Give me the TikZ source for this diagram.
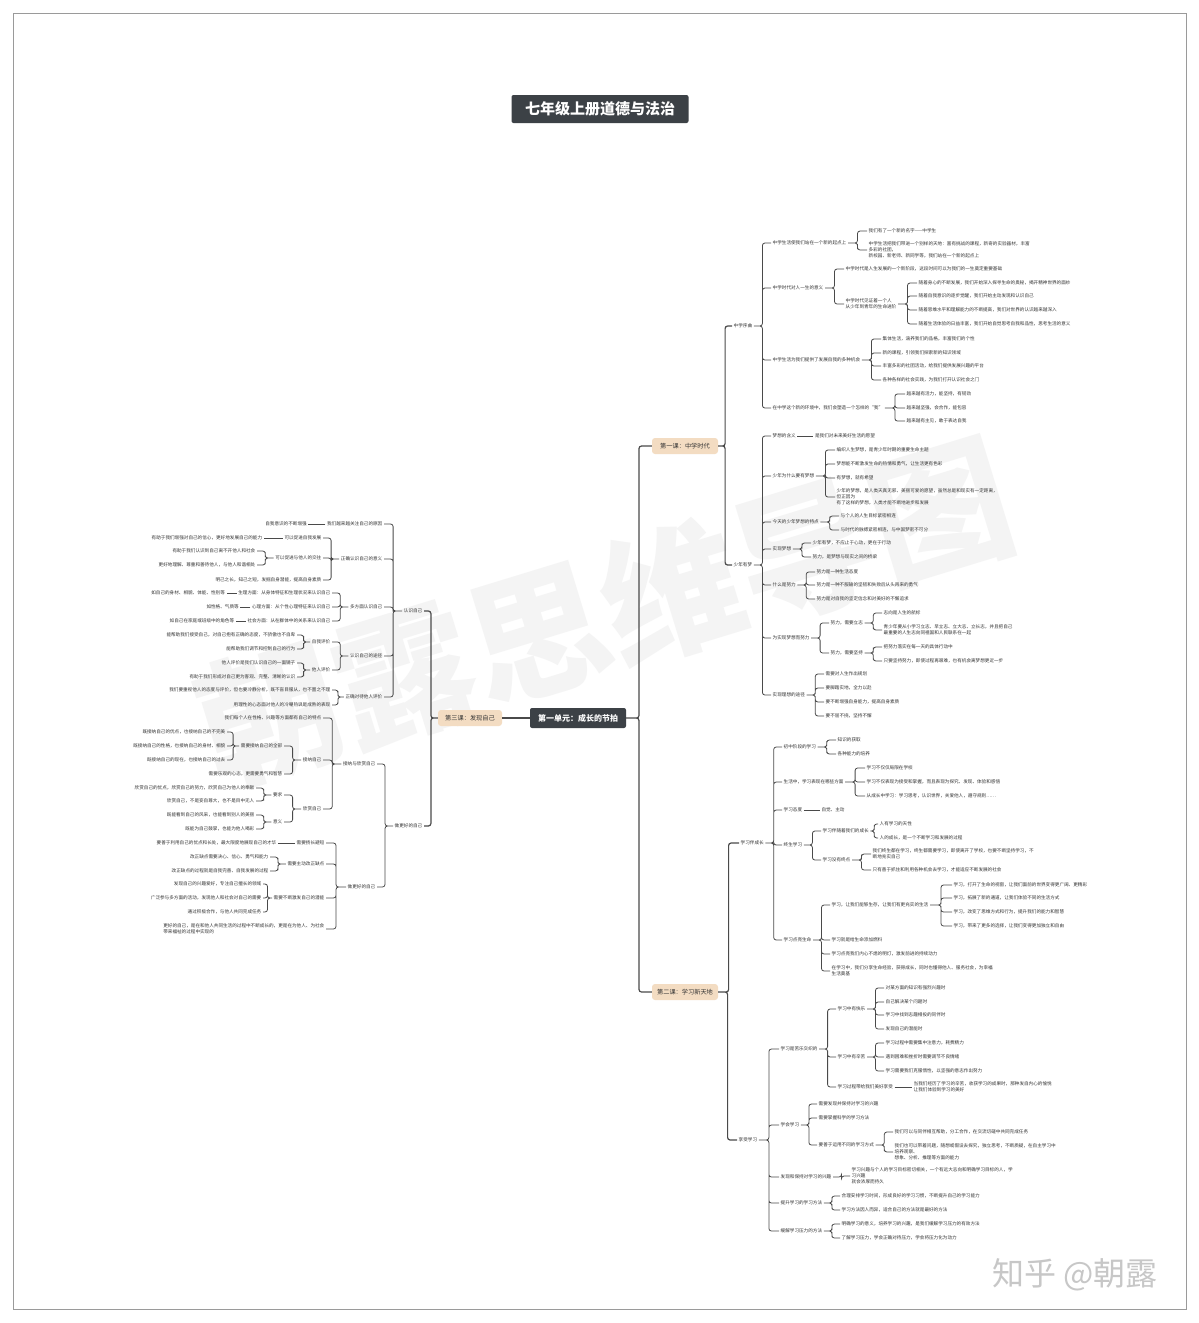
\documentclass[tikz,border=0pt]{standalone}
\usepackage{fontspec}
\setmainfont{Noto Sans CJK SC}
\usetikzlibrary{positioning, calc}

\definecolor{inkgray}{HTML}{333333}
\definecolor{linegray}{HTML}{4A4A4A}
\definecolor{darkbox}{HTML}{3C4146}
\definecolor{tanbox}{HTML}{F3DCC2}
\definecolor{framegray}{HTML}{9A9A9A}

\begin{document}
\begin{tikzpicture}[
    x=1pt, y=-1pt,
    every node/.style={text=inkgray},
    leaf/.style={font=\fontsize{4.6}{6.2}\selectfont, inner sep=1.5pt, align=left},
    rt/.style={leaf, anchor=west},
    lt/.style={leaf, anchor=east},
    lesson/.style={rectangle, rounded corners=3pt, fill=tanbox, font=\fontsize{6.2}{7}\selectfont, minimum height=16pt, minimum width=66pt, inner sep=2pt},
    unit/.style={rectangle, rounded corners=2pt, fill=darkbox, text=white, font=\bfseries\fontsize{8}{9}\selectfont, minimum height=20pt, minimum width=96pt},
    headbox/.style={rectangle, rounded corners=2pt, fill=darkbox, text=white, font=\bfseries\fontsize{15}{16}\selectfont, minimum height=28pt, minimum width=177pt},
    conn/.style={draw=linegray, line width=0.8pt, rounded corners=2.5pt},
    trunk/.style={conn, line width=1.2pt},
    fork/.style={to path={-| ($(\tikztostart)!.5!(\tikztotarget)$) |- (\tikztotarget)}}
]

% Page, frame and watermarks
\fill[white] (0,0) rectangle (1199,1323);
\useasboundingbox (0,0) rectangle (1199,1323);
\node[text=black!4.5, font=\bfseries\fontsize{140}{140}\selectfont, rotate=17] (mark) at (605,612) {朝露思维导图};
\draw[framegray, line width=0.8pt] (13,13) rectangle (1186,1309);
\node[text=black!22, font=\fontsize{32}{34}\selectfont] (zhihu) at (1075,1275) {知乎 @朝露};

% Title and centre
\node[headbox] (title) at (600,109) {七年级上册道德与法治};
\node[unit] (unit) at (578,718) {第一单元：成长的节拍};
\node[lesson] (k1) at (685,446) {第一课：中学时代};
\node[lesson] (k2) at (685,992) {第二课：学习新天地};
\node[lesson, minimum width=64pt] (k3) at (470,718) {第三课：发现自己};

% Lesson 1 -- 中学序曲
\node[rt] (k1a) at (732,326) {中学序曲};
\node[rt] (a1) at (771,243) {中学生活使我们站在一个新的起点上};
\node[rt] (a11) at (867,231) {我们有了一个新的名字——中学生};
\node[rt] (a12) at (867,250) {中学生活把我们带进一个别样的天地：富有挑战的课程，新奇的实验器材，丰富\\多彩的社团，\\新校园、新老师、新同学等，我们站在一个新的起点上};
\node[rt] (a2) at (771,288) {中学时代对人一生的意义};
\node[rt] (a21) at (844,269) {中学时代是人生发展的一个新阶段，这段时间可以为我们的一生奠定重要基础};
\node[rt] (a22) at (844,304) {中学时代见证着一个人\\从少年到青年的生命进阶};
\node[rt] (a221) at (917,283) {随着身心的不断发展，我们开始深入探寻生命的奥秘，揭开精神世界的面纱};
\node[rt] (a222) at (917,296) {随着自我意识的逐步觉醒，我们开始主动发现和认识自己};
\node[rt] (a223) at (917,310) {随着思维水平和理解能力的不断提高，我们对世界的认识越来越深入};
\node[rt] (a224) at (917,324) {随着生活体验的日益丰富，我们开始自觉思考自我和品性，思考生活的意义};
\node[rt] (a3) at (771,360) {中学生活为我们提供了发展自我的多种机会};
\node[rt] (a31) at (881,339) {集体生活，涵养我们的品格，丰富我们的个性};
\node[rt] (a32) at (881,353) {新的课程，引领我们探索新的知识领域};
\node[rt] (a33) at (881,366) {丰富多彩的社团活动，给我们提供发展兴趣的平台};
\node[rt] (a34) at (881,380) {各种各样的社会实践，为我们打开认识社会之门};
\node[rt] (a4) at (771,408) {在中学这个新的环境中，我们会塑造一个怎样的“我”};
\node[rt] (a41) at (905,394) {越来越有活力，能坚持，有韧劲};
\node[rt] (a42) at (905,408) {越来越坚强，会合作，能包容};
\node[rt] (a43) at (905,421) {越来越有主见，敢于表达自我};

% Lesson 1 -- 少年有梦
\node[rt] (k1b) at (732,565) {少年有梦};
\node[rt] (b1) at (771,436) {梦想的含义};
\node[rt, right=16pt of b1] (b11) {是我们对未来美好生活的愿望};
\node[rt] (b2) at (771,476) {少年为什么要有梦想};
\node[rt] (b21) at (835,450) {编织人生梦想，是青少年时期的重要生命主题};
\node[rt] (b22) at (835,464) {梦想能不断激发生命的热情和勇气，让生活更有色彩};
\node[rt] (b23) at (835,478) {有梦想，就有希望};
\node[rt] (b24) at (835,497) {少年的梦想，是人类天真无邪、美丽可爱的愿望，虽然总是和现实有一定距离，\\但正因为\\有了这样的梦想，人类才能不断地进步和发展};
\node[rt] (b3) at (771,522) {今天的少年梦想的特点};
\node[rt] (b31) at (839,516) {与个人的人生目标紧密相连};
\node[rt] (b32) at (839,530) {与时代的脉搏紧密相连，与中国梦密不可分};
\node[rt] (b4) at (771,549) {实现梦想};
\node[rt] (b41) at (811,543) {少年有梦，不应止于心动，更在于行动};
\node[rt] (b42) at (811,557) {努力，是梦想与现实之间的桥梁};
\node[rt] (b5) at (771,585) {什么是努力};
\node[rt] (b51) at (815,572) {努力是一种生活态度};
\node[rt] (b52) at (815,585) {努力是一种不服输的坚韧和失败后从头再来的勇气};
\node[rt] (b53) at (815,599) {努力是对自我的坚定信念和对美好的不懈追求};
\node[rt] (b6) at (771,638) {为实现梦想而努力};
\node[rt] (b61) at (829,623) {努力，需要立志};
\node[rt] (b611) at (882,613) {志向是人生的航标};
\node[rt] (b612) at (882,630) {青少年要从小学习立志、早立志、立大志、立长志，并且把自己\\最重要的人生志向同祖国和人民联系在一起};
\node[rt] (b62) at (829,653) {努力，需要坚持};
\node[rt] (b621) at (882,647) {把努力落实在每一天的具体行动中};
\node[rt] (b622) at (882,661) {只要坚持努力，即使过程再艰难，也有机会离梦想更近一步};
\node[rt] (b7) at (771,695) {实现理想的途径};
\node[rt] (b71) at (824,674) {需要对人生作出规划};
\node[rt] (b72) at (824,688) {要脚踏实地，全力以赴};
\node[rt] (b73) at (824,702) {要不断增强自身能力，提高自身素质};
\node[rt] (b74) at (824,716) {要不屈不挠，坚持不懈};

% Lesson 2 -- 学习伴成长
\node[rt] (k2a) at (739,843) {学习伴成长};
\node[rt] (c1) at (782,747) {初中阶段的学习};
\node[rt] (c11) at (836,740) {知识的获取};
\node[rt] (c12) at (836,754) {各种能力的培养};
\node[rt] (c2) at (782,782) {生活中，学习表现在哪些方面};
\node[rt] (c21) at (865,768) {学习不仅仅局限在学校};
\node[rt] (c22) at (865,782) {学习不仅表现为接受和掌握，而且表现为探究、发现、体验和感悟};
\node[rt] (c23) at (865,796) {从成长中学习：学习思考，认识世界，关爱他人，遵守规则……};
\node[rt] (c3) at (782,810) {学习态度};
\node[rt, right=16pt of c3] (c31) {自觉、主动};
\node[rt] (c4) at (782,845) {终生学习};
\node[rt] (c41) at (821,831) {学习伴随着我们的成长};
\node[rt] (c411) at (878,824) {人有学习的天性};
\node[rt] (c412) at (878,838) {人的成长，是一个不断学习和发展的过程};
\node[rt] (c42) at (821,860) {学习没有终点};
\node[rt] (c421) at (871,854) {我们终生都在学习，终生都需要学习，即使离开了学校，也要不断坚持学习，不\\断地充实自己};
\node[rt] (c422) at (871,870) {只有善于抓住和利用各种机会去学习，才能适应不断发展的社会};
\node[rt] (c5) at (782,940) {学习点亮生命};
\node[rt] (c51) at (830,905) {学习，让我们能够生存，让我们有更充实的生活};
\node[rt] (c511) at (952,885) {学习，打开了生命的视窗，让我们面前的世界变得更广阔、更精彩};
\node[rt] (c512) at (952,898) {学习，拓展了新的通道，让我们体验不同的生活方式};
\node[rt] (c513) at (952,912) {学习，改变了思维方式和行为，提升我们的能力和智慧};
\node[rt] (c514) at (952,926) {学习，带来了更多的选择，让我们变得更加独立和自由};
\node[rt] (c52) at (830,940) {学习就是给生命添加燃料};
\node[rt] (c53) at (830,954) {学习点亮我们内心不熄的明灯，激发前进的持续动力};
\node[rt] (c54) at (830,971) {在学习中，我们分享生命经验，获得成长，同时也懂得他人、服务社会，为幸福\\生活奠基};

% Lesson 2 -- 享受学习
\node[rt] (k2b) at (737,1140) {享受学习};
\node[rt] (d1) at (779,1049) {学习是苦乐交织的};
\node[rt] (d11) at (836,1009) {学习中有快乐};
\node[rt] (d111) at (884,988) {对某方面的知识有强烈兴趣时};
\node[rt] (d112) at (884,1002) {自己解决某个问题时};
\node[rt] (d113) at (884,1015) {学习中找到志趣相投的同伴时};
\node[rt] (d114) at (884,1029) {发现自己的潜能时};
\node[rt] (d12) at (836,1057) {学习中有辛苦};
\node[rt] (d121) at (884,1043) {学习过程中需要集中注意力，耗费精力};
\node[rt] (d122) at (884,1057) {遇到困难和挫折时需要调节不良情绪};
\node[rt] (d123) at (884,1071) {学习需要我们克服惰性，以坚强的意志作出努力};
\node[rt] (d13) at (836,1087) {学习过程带给我们美好享受};
\node[rt] (d131) at (912,1087) {当我们经历了学习的辛苦，收获学习的成果时，那种发自内心的愉悦\\让我们体验到学习的美好};
\node[rt] (d2) at (779,1125) {学会学习};
\node[rt] (d21) at (817,1104) {需要发现并保持对学习的兴趣};
\node[rt] (d22) at (817,1118) {需要掌握科学的学习方法};
\node[rt] (d23) at (817,1145) {要善于运用不同的学习方式};
\node[rt] (d231) at (893,1132) {我们可以与同伴相互帮助，分工合作，在交流切磋中共同完成任务};
\node[rt] (d232) at (893,1152) {我们也可以带着问题，随想或假设去探究，独立思考，不断质疑，在自主学习中\\培养观察、\\想象、分析、推理等方面的能力};
\node[rt] (d3) at (779,1177) {发现和保持对学习的兴趣};
\node[rt] (d31) at (850,1176) {学习兴趣与个人的学习目标密切相关，一个有远大志向和明确学习目标的人，学\\习兴趣\\就会浓厚而持久};
\node[rt] (d4) at (779,1203) {提升学习的学习方法};
\node[rt] (d41) at (840,1196) {合理安排学习时间，形成良好的学习习惯，不断提升自己的学习能力};
\node[rt] (d42) at (840,1210) {学习方法因人而异，适合自己的方法就是最好的方法};
\node[rt] (d5) at (779,1231) {缓解学习压力的方法};
\node[rt] (d51) at (840,1224) {明确学习的意义，培养学习的兴趣，是我们缓解学习压力的有效方法};
\node[rt] (d52) at (840,1238) {了解学习压力，学会正确对待压力，学会将压力化为动力};

% Lesson 3 -- 认识自己
\node[lt] (k3a) at (424,611) {认识自己};
\node[lt] (l1) at (384,524) {我们越来越关注自己的原因};
\node[lt, left=17pt of l1] (l11) {自我意识的不断增强};
\node[lt] (l2) at (384,559) {正确认识自己的意义};
\node[lt] (l21) at (323,538) {可以促进自我发展};
\node[lt, left=19pt of l21] (l211) {有助于我们增强对自己的信心，更好地发展自己的能力};
\node[lt] (l22) at (323,558) {可以促进与他人的交往};
\node[lt] (l221) at (257,551) {有助于我们认识到自己离不开他人和社会};
\node[lt] (l222) at (257,565) {更好地理解、尊重和善待他人，与他人和谐相处};
\node[lt] (l23) at (323,580) {明己之长，知己之短，发掘自身潜能，提高自身素质};
\node[lt] (l3) at (384,607) {多方面认识自己};
\node[lt] (l31) at (332,593) {生理方面：从身体特征和生理状况来认识自己};
\node[lt, left=10pt of l31] (l311) {如自己的身材、相貌、体能、性别等};
\node[lt] (l32) at (332,607) {心理方面：从个性心理特征来认识自己};
\node[lt, left=10pt of l32] (l321) {如性格、气质等};
\node[lt] (l33) at (332,621) {社会方面：从在群体中的关系来认识自己};
\node[lt, left=10pt of l33] (l331) {如自己在家庭或班级中的角色等};
\node[lt] (l4) at (384,656) {认识自己的途径};
\node[lt] (l41) at (332,642) {自我评价};
\node[lt] (l411) at (297,635) {能帮助我们接受自己，对自己抱有正确的态度，不骄傲也不自卑};
\node[lt] (l412) at (297,649) {能帮助我们调节和控制自己的行为};
\node[lt] (l42) at (332,670) {他人评价};
\node[lt] (l421) at (297,663) {他人评价是我们认识自己的一面镜子};
\node[lt] (l422) at (297,677) {有助于我们形成对自己更为客观、完整、清晰的认识};
\node[lt] (l5) at (384,697) {正确对待他人评价};
\node[lt] (l51) at (332,690) {我们要重视他人的态度与评价，但也要冷静分析，既不盲目服从，也不置之不理};
\node[lt] (l52) at (332,705) {用理性的心态面对他人的冷嘲热讽是成熟的表现};

% Lesson 3 -- 做更好的自己
\node[lt] (k3b) at (424,826) {做更好的自己};
\node[lt] (m1) at (377,764) {接纳与欣赏自己};
\node[lt] (m11) at (323,718) {我们每个人在性格、兴趣等方面都有自己的特点};
\node[lt] (m12) at (323,760) {接纳自己};
\node[lt] (m121) at (284,746) {需要接纳自己的全部};
\node[lt] (m1211) at (227,732) {既接纳自己的优点，也接纳自己的不完美};
\node[lt] (m1212) at (227,746) {既接纳自己的性格，也接纳自己的身材、相貌};
\node[lt] (m1213) at (227,760) {既接纳自己的现在，也接纳自己的过去};
\node[lt] (m122) at (284,774) {需要乐观的心态，更需要勇气和智慧};
\node[lt] (m13) at (323,809) {欣赏自己};
\node[lt] (m131) at (284,795) {要求};
\node[lt] (m1311) at (256,788) {欣赏自己的优点，欣赏自己的努力，欣赏自己为他人的奉献};
\node[lt] (m1312) at (256,801) {欣赏自己，不是妄自尊大，也不是目中无人};
\node[lt] (m132) at (284,822) {意义};
\node[lt] (m1321) at (256,815) {既能看到自己的风采，也能看到别人的美丽};
\node[lt] (m1322) at (256,829) {既能为自己鼓掌，也能为他人喝彩};
\node[lt] (m2) at (377,887) {做更好的自己};
\node[lt] (m21) at (326,843) {需要扬长避短};
\node[lt, left=17pt of m21] (m211) {要善于利用自己的优点和长处，最大限度地展现自己的才华};
\node[lt] (m22) at (326,864) {需要主动改正缺点};
\node[lt] (m221) at (270,857) {改正缺点需要决心、信心、勇气和能力};
\node[lt] (m222) at (270,871) {改正缺点的过程就是自我完善、自我发展的过程};
\node[lt] (m23) at (326,898) {需要不断激发自己的潜能};
\node[lt] (m231) at (263,884) {发现自己的兴趣爱好，专注自己擅长的领域};
\node[lt] (m232) at (263,898) {广泛参与多方面的活动，发现他人和社会对自己的需要};
\node[lt] (m233) at (263,912) {通过积极合作，与他人共同完成任务};
\node[lt] (m24) at (326,929) {更好的自己，是在和他人共同生活的过程中不断成长的，更是在为他人、为社会\\带来福祉的过程中实现的};

% Connectors -- trunk
\draw[trunk] (unit.east) to[fork] (k1.west) (unit.east) to[fork] (k2.west);
\draw[trunk] (unit.west) -- (k3.east);
\draw[trunk] (k1.east) to[fork] (k1a.west) (k1.east) to[fork] (k1b.west);
\draw[trunk] (k2.east) to[fork] (k2a.west) (k2.east) to[fork] (k2b.west);
\draw[trunk] (k3.west) to[fork] (k3a.east) (k3.west) to[fork] (k3b.east);

% Connectors -- lesson 1
\draw[conn] (k1a.east) to[fork] (a1.west) (k1a.east) to[fork] (a2.west) (k1a.east) to[fork] (a3.west) (k1a.east) to[fork] (a4.west);
\draw[conn] (a1.east) to[fork] (a11.west) (a1.east) to[fork] (a12.west);
\draw[conn] (a2.east) to[fork] (a21.west) (a2.east) to[fork] (a22.west);
\draw[conn] (a22.east) to[fork] (a221.west) (a22.east) to[fork] (a222.west) (a22.east) to[fork] (a223.west) (a22.east) to[fork] (a224.west);
\draw[conn] (a3.east) to[fork] (a31.west) (a3.east) to[fork] (a32.west) (a3.east) to[fork] (a33.west) (a3.east) to[fork] (a34.west);
\draw[conn] (a4.east) to[fork] (a41.west) (a4.east) to[fork] (a42.west) (a4.east) to[fork] (a43.west);
\draw[conn] (k1b.east) to[fork] (b1.west) (k1b.east) to[fork] (b2.west) (k1b.east) to[fork] (b3.west) (k1b.east) to[fork] (b4.west) (k1b.east) to[fork] (b5.west) (k1b.east) to[fork] (b6.west) (k1b.east) to[fork] (b7.west);
\draw[conn] (b1.east) -- (b11.west);
\draw[conn] (b2.east) to[fork] (b21.west) (b2.east) to[fork] (b22.west) (b2.east) to[fork] (b23.west) (b2.east) to[fork] (b24.west);
\draw[conn] (b3.east) to[fork] (b31.west) (b3.east) to[fork] (b32.west);
\draw[conn] (b4.east) to[fork] (b41.west) (b4.east) to[fork] (b42.west);
\draw[conn] (b5.east) to[fork] (b51.west) (b5.east) to[fork] (b52.west) (b5.east) to[fork] (b53.west);
\draw[conn] (b6.east) to[fork] (b61.west) (b6.east) to[fork] (b62.west);
\draw[conn] (b61.east) to[fork] (b611.west) (b61.east) to[fork] (b612.west);
\draw[conn] (b62.east) to[fork] (b621.west) (b62.east) to[fork] (b622.west);
\draw[conn] (b7.east) to[fork] (b71.west) (b7.east) to[fork] (b72.west) (b7.east) to[fork] (b73.west) (b7.east) to[fork] (b74.west);

% Connectors -- lesson 2
\draw[conn] (k2a.east) to[fork] (c1.west) (k2a.east) to[fork] (c2.west) (k2a.east) to[fork] (c3.west) (k2a.east) to[fork] (c4.west) (k2a.east) to[fork] (c5.west);
\draw[conn] (c1.east) to[fork] (c11.west) (c1.east) to[fork] (c12.west);
\draw[conn] (c2.east) to[fork] (c21.west) (c2.east) to[fork] (c22.west) (c2.east) to[fork] (c23.west);
\draw[conn] (c3.east) -- (c31.west);
\draw[conn] (c4.east) to[fork] (c41.west) (c4.east) to[fork] (c42.west);
\draw[conn] (c41.east) to[fork] (c411.west) (c41.east) to[fork] (c412.west);
\draw[conn] (c42.east) to[fork] (c421.west) (c42.east) to[fork] (c422.west);
\draw[conn] (c5.east) to[fork] (c51.west) (c5.east) to[fork] (c52.west) (c5.east) to[fork] (c53.west) (c5.east) to[fork] (c54.west);
\draw[conn] (c51.east) to[fork] (c511.west) (c51.east) to[fork] (c512.west) (c51.east) to[fork] (c513.west) (c51.east) to[fork] (c514.west);
\draw[conn] (k2b.east) to[fork] (d1.west) (k2b.east) to[fork] (d2.west) (k2b.east) to[fork] (d3.west) (k2b.east) to[fork] (d4.west) (k2b.east) to[fork] (d5.west);
\draw[conn] (d1.east) to[fork] (d11.west) (d1.east) to[fork] (d12.west) (d1.east) to[fork] (d13.west);
\draw[conn] (d11.east) to[fork] (d111.west) (d11.east) to[fork] (d112.west) (d11.east) to[fork] (d113.west) (d11.east) to[fork] (d114.west);
\draw[conn] (d12.east) to[fork] (d121.west) (d12.east) to[fork] (d122.west) (d12.east) to[fork] (d123.west);
\draw[conn] (d13.east) -- (d131.west);
\draw[conn] (d2.east) to[fork] (d21.west) (d2.east) to[fork] (d22.west) (d2.east) to[fork] (d23.west);
\draw[conn] (d23.east) to[fork] (d231.west) (d23.east) to[fork] (d232.west);
\draw[conn] (d3.east) to[fork] (d31.west);
\draw[conn] (d4.east) to[fork] (d41.west) (d4.east) to[fork] (d42.west);
\draw[conn] (d5.east) to[fork] (d51.west) (d5.east) to[fork] (d52.west);

% Connectors -- lesson 3
\draw[conn] (k3a.west) to[fork] (l1.east) (k3a.west) to[fork] (l2.east) (k3a.west) to[fork] (l3.east) (k3a.west) to[fork] (l4.east) (k3a.west) to[fork] (l5.east);
\draw[conn] (l1.west) -- (l11.east);
\draw[conn] (l2.west) to[fork] (l21.east) (l2.west) to[fork] (l22.east) (l2.west) to[fork] (l23.east);
\draw[conn] (l21.west) -- (l211.east);
\draw[conn] (l22.west) to[fork] (l221.east) (l22.west) to[fork] (l222.east);
\draw[conn] (l3.west) to[fork] (l31.east) (l3.west) to[fork] (l32.east) (l3.west) to[fork] (l33.east);
\draw[conn] (l31.west) -- (l311.east);
\draw[conn] (l32.west) -- (l321.east);
\draw[conn] (l33.west) -- (l331.east);
\draw[conn] (l4.west) to[fork] (l41.east) (l4.west) to[fork] (l42.east);
\draw[conn] (l41.west) to[fork] (l411.east) (l41.west) to[fork] (l412.east);
\draw[conn] (l42.west) to[fork] (l421.east) (l42.west) to[fork] (l422.east);
\draw[conn] (l5.west) to[fork] (l51.east) (l5.west) to[fork] (l52.east);
\draw[conn] (k3b.west) to[fork] (m1.east) (k3b.west) to[fork] (m2.east);
\draw[conn] (m1.west) to[fork] (m11.east) (m1.west) to[fork] (m12.east) (m1.west) to[fork] (m13.east);
\draw[conn] (m12.west) to[fork] (m121.east) (m12.west) to[fork] (m122.east);
\draw[conn] (m121.west) to[fork] (m1211.east) (m121.west) to[fork] (m1212.east) (m121.west) to[fork] (m1213.east);
\draw[conn] (m13.west) to[fork] (m131.east) (m13.west) to[fork] (m132.east);
\draw[conn] (m131.west) to[fork] (m1311.east) (m131.west) to[fork] (m1312.east);
\draw[conn] (m132.west) to[fork] (m1321.east) (m132.west) to[fork] (m1322.east);
\draw[conn] (m2.west) to[fork] (m21.east) (m2.west) to[fork] (m22.east) (m2.west) to[fork] (m23.east) (m2.west) to[fork] (m24.east);
\draw[conn] (m21.west) -- (m211.east);
\draw[conn] (m22.west) to[fork] (m221.east) (m22.west) to[fork] (m222.east);
\draw[conn] (m23.west) to[fork] (m231.east) (m23.west) to[fork] (m232.east) (m23.west) to[fork] (m233.east);

\end{tikzpicture}
\end{document}
